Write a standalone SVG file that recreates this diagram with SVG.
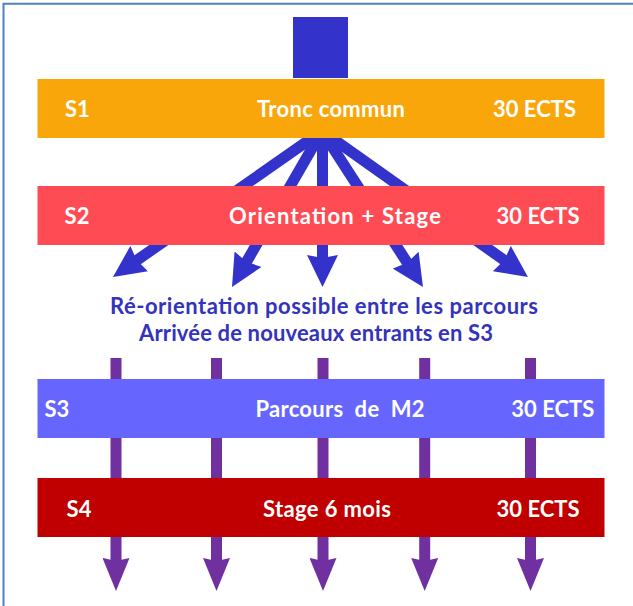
<svg xmlns="http://www.w3.org/2000/svg" width="633" height="606" viewBox="0 0 633 606">
<style>
.lbl{font-family:Lato,"Open Sans","Liberation Sans",sans-serif;font-weight:bold;font-size:22px;fill:#FFFFFF}
.note{font-family:Lato,"Open Sans","Liberation Sans",sans-serif;font-weight:bold;font-size:22px;fill:#3333BB;text-anchor:middle}
.mid{text-anchor:middle}
.end{text-anchor:end}
.fan{stroke:#3333CC;stroke-width:11;fill:none;marker-end:url(#headBlue)}
.col{stroke:#7030A0;stroke-width:11;fill:none;marker-end:url(#headPurple)}
</style>
<defs>
<marker id="headBlue" markerUnits="userSpaceOnUse" viewBox="0 0 32 31" markerWidth="32" markerHeight="31" refX="16" refY="15.5" orient="auto">
<path d="M0,0 L32,15.5 L0,31 L3,15.5 z" fill="#3333CC"/>
</marker>
<marker id="headPurple" markerUnits="userSpaceOnUse" viewBox="0 0 33 27" markerWidth="33" markerHeight="27" refX="17" refY="13.5" orient="auto">
<path d="M0,0 L33,13.5 L0,27 L3,13.5 z" fill="#7030A0"/>
</marker>
</defs>
<rect width="633" height="606" fill="#FFFFFF"/>
<path d="M3.5,606 V3.8 H633" fill="none" stroke="#4F81BD" stroke-width="2"/>
<g id="connectors">
<line class="fan" x1="322" y1="131" x2="126.1" y2="267.8"/>
<line class="fan" x1="322" y1="131" x2="240" y2="273.1"/>
<line class="fan" x1="322.5" y1="131" x2="322.5" y2="271"/>
<line class="fan" x1="322" y1="131" x2="414.3" y2="273.6"/>
<line class="fan" x1="322" y1="131" x2="514.9" y2="267.8"/>
<line class="col" x1="116" y1="358" x2="116" y2="575"/>
<line class="col" x1="216.5" y1="358" x2="216.5" y2="575"/>
<line class="col" x1="323" y1="358" x2="323" y2="575"/>
<line class="col" x1="424.7" y1="358" x2="424.7" y2="575"/>
<line class="col" x1="530.5" y1="358" x2="530.5" y2="575"/>
</g>
<g id="start">
<rect x="293" y="17" width="55" height="61" fill="#3333CC"/>
</g>
<g id="s1">
<rect x="37.5" y="79" width="567" height="59" fill="#F9A60A"/>
<text class="lbl" x="65" y="116.7">S1</text>
<text class="lbl mid" x="331" y="116.7" textLength="148" lengthAdjust="spacing">Tronc commun</text>
<text class="lbl" x="493" y="116.7">30 ECTS</text>
</g>
<g id="s2">
<rect x="37.5" y="186" width="567" height="59" fill="#FF4B53"/>
<text class="lbl" x="64.6" y="223.7">S2</text>
<text class="lbl mid" x="335" y="223.7" textLength="212" lengthAdjust="spacing">Orientation + Stage</text>
<text class="lbl" x="496.6" y="223.7">30 ECTS</text>
</g>
<g id="note">
<text class="note" x="324" y="314.3" textLength="428" lengthAdjust="spacing">Ré-orientation possible entre les parcours</text>
<text class="note" x="316" y="340.7" textLength="354" lengthAdjust="spacing">Arrivée de nouveaux entrants en S3</text>
</g>
<g id="s3">
<rect x="37.5" y="379" width="567" height="59" fill="#6666FF"/>
<text class="lbl" x="44.4" y="417.3">S3</text>
<text class="lbl mid" x="340" y="417.3" xml:space="preserve" textLength="169" lengthAdjust="spacing">Parcours  de  M2</text>
<text class="lbl end" x="594.3" y="417.3">30 ECTS</text>
</g>
<g id="s4">
<rect x="37.5" y="478" width="567" height="59" fill="#C00000"/>
<text class="lbl" x="66.6" y="516.7">S4</text>
<text class="lbl mid" x="327" y="516.7" textLength="128" lengthAdjust="spacing">Stage 6 mois</text>
<text class="lbl" x="496.6" y="516.7">30 ECTS</text>
</g>
</svg>
